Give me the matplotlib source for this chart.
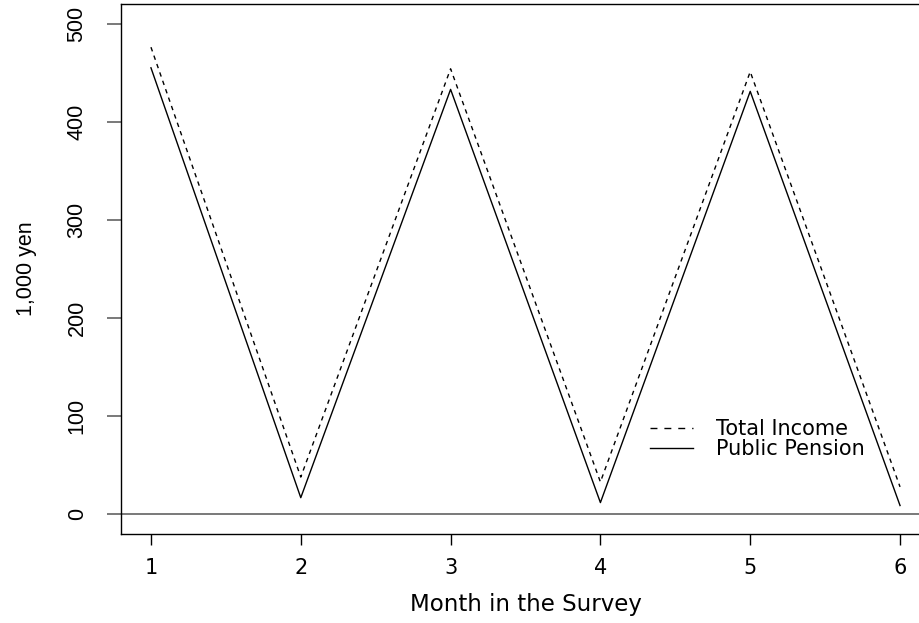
import matplotlib
matplotlib.use('Agg')
import matplotlib.pyplot as plt
from matplotlib.lines import Line2D

# values (1,000 yen)
months = [1, 2, 3, 4, 5, 6]
total_income = [476, 38, 454, 33, 451, 28]
public_pension = [455, 17, 433, 12, 431, 9]
yticks = [0, 100, 200, 300, 400, 500]

plt.rcParams['lines.scale_dashes'] = False
narrow = ['Liberation Sans', 'DejaVu Sans']
wide = ['DejaVu Sans']

fig = plt.figure(figsize=(9.2, 6.23), dpi=100)
ax = fig.add_axes([121/920., 1-534/623., 809/920., 530/623.])

ax.axhline(0, color='#6e6e6e', lw=1.3, zorder=1)
ax.plot(months, total_income, color='black', lw=1.0, ls=(0, (3.2, 3.2)))
ax.plot(months, public_pension, color='black', lw=1.0)

ax.set_xlim(0.8, 6.2)
ax.set_ylim(-20, 520)
for s in ax.spines.values():
    s.set_linewidth(1.0)

ax.set_xticks(months)
ax.set_xticklabels([str(m) for m in months], family=wide, fontsize=15)
ax.tick_params(axis='x', length=8, width=1.0, color='black', pad=9)

ax.set_yticks(yticks)
ax.set_yticklabels([str(v) for v in yticks], family=narrow, fontsize=15.5,
                   rotation=90, va='center')
ax.tick_params(axis='y', length=10, width=1.3, color='#6e6e6e', pad=14)

ax.set_xlabel('Month in the Survey', family=wide, fontsize=16.5, labelpad=11)
ax.set_ylabel('1,000 yen', family=narrow, fontsize=15.5, labelpad=21)

handles = [Line2D([], [], color='black', lw=1.0, ls=(0, (5, 5))),
           Line2D([], [], color='black', lw=1.0)]
leg = ax.legend(handles, ['Total Income', 'Public Pension'],
                loc='upper left', bbox_to_anchor=(0.643, 1-(411-4)/530.),
                frameon=False, handlelength=2.1, handletextpad=1.1,
                labelspacing=0.0, borderaxespad=0,
                prop={'family': wide, 'size': 15})

fig.savefig('out.png', dpi=100)
